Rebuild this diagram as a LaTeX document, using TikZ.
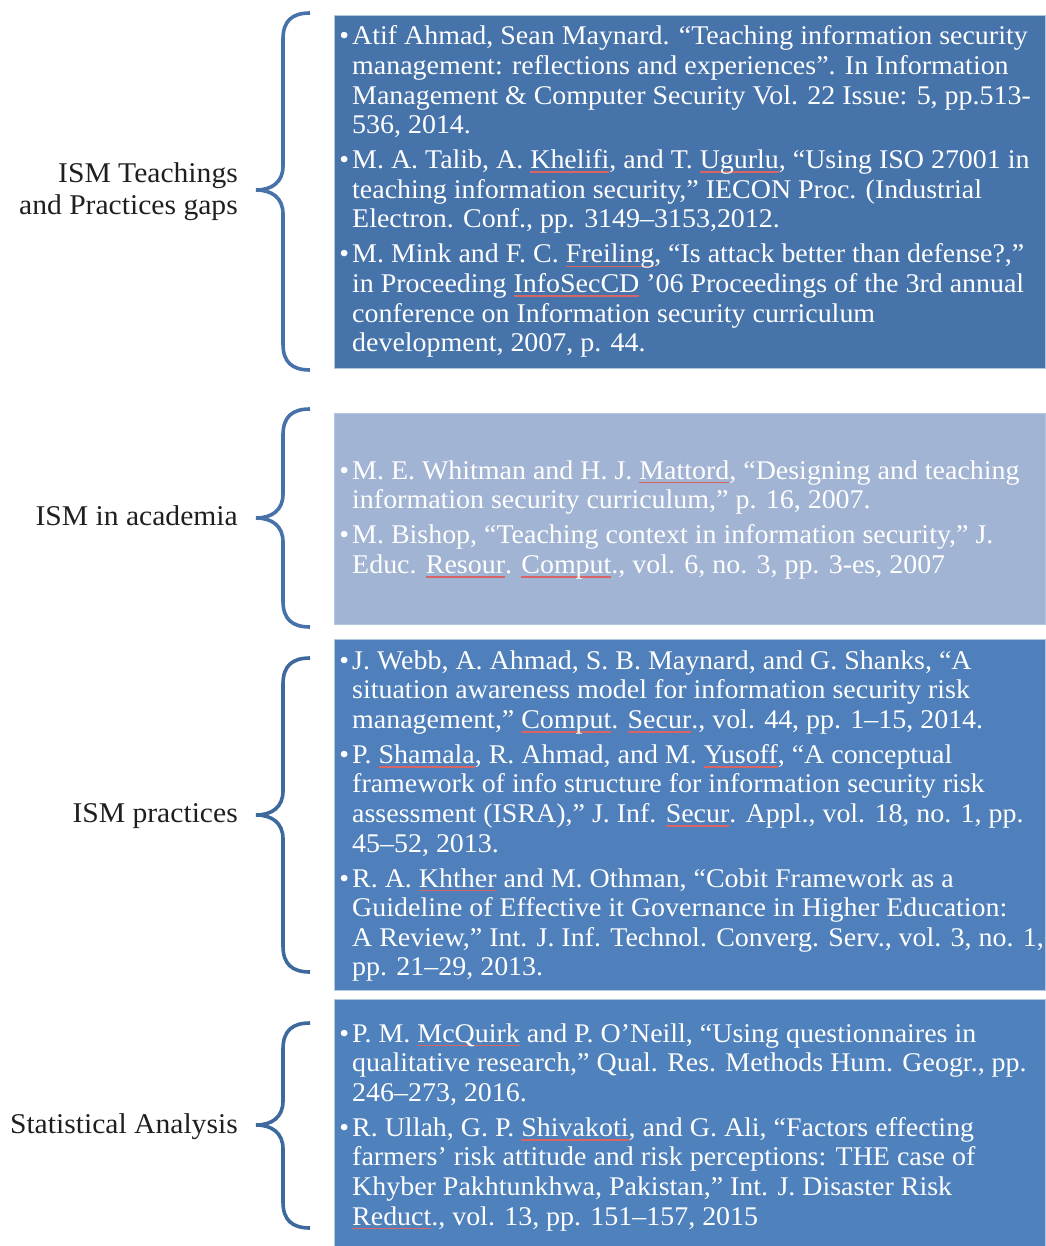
\documentclass[tikz,border=0pt]{standalone}
\usepackage{fontspec}
\setmainfont[FakeStretch=1.035]{Liberation Serif}
\usepackage{graphicx}

\definecolor{boxA}{HTML}{4673AA}
\definecolor{boxB}{HTML}{A2B4D4}
\definecolor{boxC}{HTML}{4F80BC}
\definecolor{boxD}{HTML}{4F81BD}
\definecolor{edge}{HTML}{B4C7E1}
\definecolor{braceA}{HTML}{4672A9}
\definecolor{braceB}{HTML}{3E699D}
\definecolor{spell}{HTML}{D86464}
\definecolor{labelink}{HTML}{1F1F1F}

% spell-check style underline under a word
\newsavebox\sqbox
\newcommand\sqw[1]{\sbox\sqbox{#1}%
  \rlap{\color{spell}\vrule height -2.6pt depth 4.4pt width \wd\sqbox}\usebox\sqbox}
% hanging bullet in front of each reference
\newcommand\bul{\leavevmode\llap{•\hspace{3pt}}}
\newcommand\entrygap{\\[5.4pt]}
% a block of references, baseline at its first line
\newcommand\reflist[1]{\vtop{\hsize=720pt\parindent=0pt\fontsize{27}{29.6}\selectfont#1}}
% curly bracket: top end, tip and bottom end (y values)
\newcommand\drawbrace[4]{%
  \draw[bracket,#1] (310,#2) .. controls (292,#2) and (283,#2+8) .. (283,#2+26)
    -- (283,#3-24) .. controls (283,#3-8) and (272,#3) .. (256,#3)
    .. controls (272,#3) and (283,#3+8) .. (283,#3+24)
    -- (283,#4-26) .. controls (283,#4-8) and (292,#4) .. (310,#4);}

\begin{document}
\begin{tikzpicture}[x=1pt,y=-1pt,
  refbox/.style={draw=edge, line width=1pt, anchor=north west, inner sep=0pt},
  lab/.style={anchor=base east, inner sep=0pt, text=labelink,
    font=\fontsize{28.6}{32}\selectfont},
  refs/.style={anchor=base west, inner sep=0pt, text=white},
  bracket/.style={line width=3.6pt, line cap=butt}]
\useasboundingbox (0,0) rectangle (1045,1246);

% coloured panels
\node[refbox, fill=boxA, minimum width=711pt, minimum height=353pt] (box1) at (334,15) {};
\node[refbox, fill=boxB, minimum width=711pt, minimum height=211pt] (box2) at (334,413) {};
\node[refbox, fill=boxC, minimum width=711pt, minimum height=351pt] (box3) at (334,639) {};
\node[refbox, fill=boxD, minimum width=711pt, minimum height=250pt] (box4) at (334,999) {};

% brackets
\drawbrace{braceA}{13}{190}{370}
\drawbrace{braceA}{409}{518}{627}
\drawbrace{braceB}{658}{815}{972}
\drawbrace{braceB}{1023}{1125}{1228}

% group titles
\node[lab] (lab1) at (238,183) {\begin{tabular}[t]{@{}r@{}}ISM Teachings\\and Practices gaps\end{tabular}};
\node[lab] (lab2) at (238,525) {ISM in academia};
\node[lab] (lab3) at (238,822) {ISM practices};
\node[lab] (lab4) at (238,1133) {Statistical Analysis};

% references
\node[refs] (refs1) at (352,45) {\reflist{%
\bul Atif Ahmad, Sean Maynard. “Teaching information security\\
management: reflections and experiences”. In Information\\
Management \& Computer Security Vol. 22 Issue: 5, pp.513-\\
536, 2014.\entrygap
\bul M. A. Talib, A. \sqw{Khelifi}, and T. \sqw{Ugurlu}, “Using ISO 27001 in\\
teaching information security,” IECON Proc. (Industrial\\
Electron. Conf., pp. 3149–3153,2012.\entrygap
\bul M. Mink and F. C. \sqw{Freiling}, “Is attack better than defense?,”\\
in Proceeding \sqw{InfoSecCD} ’06 Proceedings of the 3rd annual\\
conference on Information security curriculum\\
development, 2007, p. 44.}};

\node[refs] (refs2) at (352,479) {\reflist{%
\bul M. E. Whitman and H. J. \sqw{Mattord}, “Designing and teaching\\
information security curriculum,” p. 16, 2007.\entrygap
\bul M. Bishop, “Teaching context in information security,” J.\\
Educ. \sqw{Resour}. \sqw{Comput}., vol. 6, no. 3, pp. 3-es, 2007}};

\node[refs] (refs3) at (352,669) {\reflist{%
\bul J. Webb, A. Ahmad, S. B. Maynard, and G. Shanks, “A\\
situation awareness model for information security risk\\
management,” \sqw{Comput}. \sqw{Secur}., vol. 44, pp. 1–15, 2014.\entrygap
\bul P. \sqw{Shamala}, R. Ahmad, and M. \sqw{Yusoff}, “A conceptual\\
framework of info structure for information security risk\\
assessment (ISRA),” J. Inf. \sqw{Secur}. Appl., vol. 18, no. 1, pp.\\
45–52, 2013.\entrygap
\bul R. A. \sqw{Khther} and M. Othman, “Cobit Framework as a\\
Guideline of Effective it Governance in Higher Education:\\
A Review,” Int. J. Inf. Technol. Converg. Serv., vol. 3, no. 1,\\
pp. 21–29, 2013.}};

\node[refs] (refs4) at (352,1042) {\reflist{%
\bul P. M. \sqw{McQuirk} and P. O’Neill, “Using questionnaires in\\
qualitative research,” Qual. Res. Methods Hum. Geogr., pp.\\
246–273, 2016.\entrygap
\bul R. Ullah, G. P. \sqw{Shivakoti}, and G. Ali, “Factors effecting\\
farmers’ risk attitude and risk perceptions: THE case of\\
Khyber Pakhtunkhwa, Pakistan,” Int. J. Disaster Risk\\
\sqw{Reduct}., vol. 13, pp. 151–157, 2015}};
\end{tikzpicture}
\end{document}
